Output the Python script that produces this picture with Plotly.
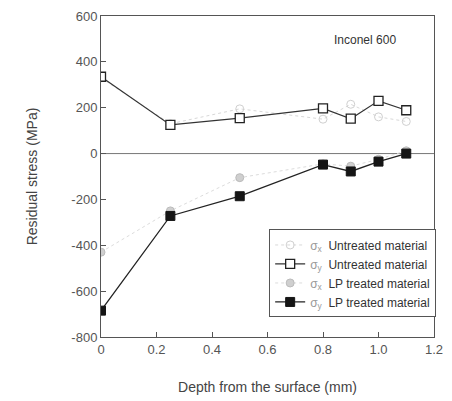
import plotly.graph_objects as go

depth = [0, 0.25, 0.5, 0.8, 0.9, 1.0, 1.1]
sx_untreated = [330, 130, 195, 150, 215, 160, 140]
sy_untreated = [335, 125, 155, 197, 152, 230, 189]
sx_lp = [-430, -250, -105, -45, -55, -25, 12]
sy_lp = [-685, -272, -186, -48, -78, -35, 0]

x_ticks = [0, 0.2, 0.4, 0.6, 0.8, 1.0, 1.2]
x_tick_text = ["0", "0.2", "0.4", "0.6", "0.8", "1.0", "1.2"]
y_ticks = [-800, -600, -400, -200, 0, 200, 400, 600]
y_tick_text = ["-800", "-600", "-400", "-200", "0", "200", "400", "600"]

font = "Liberation Sans, Arial, sans-serif"
fig = go.Figure()

fig.add_trace(go.Scatter(
    x=depth, y=sx_untreated, mode="lines+markers",
    name="<span style='color:#999'>σ<sub>x</sub></span>  Untreated material",
    line=dict(color="#d8d8d8", width=1, dash="dot"),
    marker=dict(symbol="circle-open", size=8, color="#d0d0d0", line=dict(width=1)),
))
fig.add_trace(go.Scatter(
    x=depth, y=sy_untreated, mode="lines+markers",
    name="<span style='color:#999'>σ<sub>y</sub></span>  Untreated material",
    line=dict(color="#333333", width=1.2),
    marker=dict(symbol="square", size=9, color="white", line=dict(color="#222222", width=1.3)),
))
fig.add_trace(go.Scatter(
    x=depth, y=sx_lp, mode="lines+markers",
    name="<span style='color:#999'>σ<sub>x</sub></span>  LP treated material",
    line=dict(color="#dcdcdc", width=1, dash="dot"),
    marker=dict(symbol="circle", size=8, color="#cfcfcf", line=dict(color="#bbbbbb", width=1)),
))
fig.add_trace(go.Scatter(
    x=depth, y=sy_lp, mode="lines+markers",
    name="<span style='color:#999'>σ<sub>y</sub></span>  LP treated material",
    line=dict(color="#222222", width=1.3),
    marker=dict(symbol="square", size=9, color="#151515", line=dict(color="#151515", width=1)),
))

fig.add_hline(y=0, line=dict(color="#777777", width=1), layer="below")

fig.add_annotation(
    x=0.95, y=497, xref="x", yref="y", text="Inconel 600", showarrow=False,
    font=dict(family=font, size=12, color="#333333"),
)

fig.update_layout(
    width=452, height=401,
    margin=dict(l=101, r=9, t=16, b=62),
    paper_bgcolor="white", plot_bgcolor="white",
    font=dict(family=font, color="#444444"),
    showlegend=True,
    legend=dict(
        x=0.505, y=0.335, xanchor="left", yanchor="top",
        bgcolor="white", bordercolor="#555555", borderwidth=1,
        font=dict(family=font, size=12, color="#333333"),
        itemwidth=30, tracegroupgap=0,
    ),
    xaxis=dict(
        range=[0, 1.2], tickvals=x_ticks, ticktext=x_tick_text,
        showgrid=False, zeroline=False, showline=True, linecolor="#555555", linewidth=1,
        mirror=True, ticks="inside", ticklen=5, tickcolor="#555555",
        tickfont=dict(family=font, size=13, color="#555555"),
        title=dict(text="Depth from the surface (mm)", font=dict(family=font, size=14, color="#444444"), standoff=26),
    ),
    yaxis=dict(
        range=[-800, 600], tickvals=y_ticks, ticktext=y_tick_text,
        showgrid=False, zeroline=False, showline=True, linecolor="#555555", linewidth=1,
        mirror=True, ticks="inside", ticklen=5, tickcolor="#555555",
        tickfont=dict(family=font, size=13, color="#555555"),
        title=dict(text="Residual stress (MPa)", font=dict(family=font, size=14, color="#444444"), standoff=30),
    ),
)

fig.write_html("out.html")
